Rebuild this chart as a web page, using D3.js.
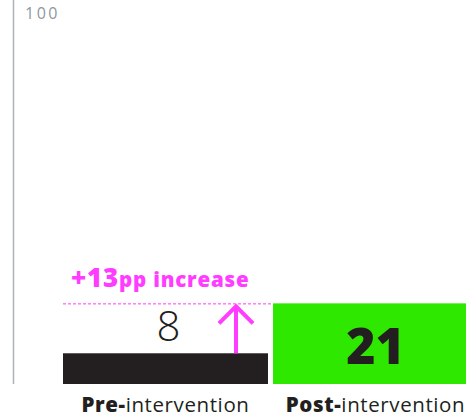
<!DOCTYPE html>
<html lang="en">
<head>
    <meta charset="UTF-8">
    <title>Pre vs post intervention</title>
    <script src="https://d3js.org/d3.v7.min.js"></script>
    <style>
        body {
            margin: 0;
            padding: 0;
            background: #fff;
            font-family: "Open Sans", Lato, sans-serif;
        }
        svg {
            display: block;
        }
    </style>
</head>
<body>
    <svg width="466" height="418"></svg>

    <script>
        const categories = ["Pre-intervention", "Post-intervention"];
        const prefixes = ["Pre-", "Post-"];
        const values = [8, 21];
        const yTicks = [100];
        const increaseLabel = ["+13", "pp increase"];

        const colors = ["#231f20", "#2ee800"];
        const accent = "#ff3cff";
        const baseline = 384;

        const svg = d3.select("svg");

        const x = d3.scaleBand()
            .domain(categories)
            .range([63, 478])
            .paddingInner(0.024);

        const y = d3.scaleLinear()
            .domain([0, 100])
            .range([baseline, 0]);

        // axis line + tick label
        svg.append("line")
            .attr("x1", 13.5).attr("x2", 13.5)
            .attr("y1", y(100)).attr("y2", baseline)
            .attr("stroke", "#aab2b8")
            .attr("stroke-width", 1.5);

        svg.selectAll(".tick-label")
            .data(yTicks)
            .enter()
            .append("text")
            .attr("class", "tick-label")
            .attr("x", 25)
            .attr("y", d => y(d) + 19)
            .attr("fill", "#8e979d")
            .attr("font-size", 16)
            .attr("letter-spacing", 2.5)
            .text(d => d);

        // bars
        svg.selectAll(".bar")
            .data(values)
            .enter()
            .append("rect")
            .attr("class", "bar")
            .attr("x", (d, i) => x(categories[i]))
            .attr("y", d => y(d))
            .attr("width", x.bandwidth())
            .attr("height", d => baseline - y(d))
            .attr("fill", (d, i) => colors[i]);

        // value labels
        svg.append("text")
            .attr("x", x(categories[0]) + x.bandwidth() / 2 + 3)
            .attr("y", y(values[0]) - 12)
            .attr("text-anchor", "middle")
            .attr("font-size", 42)
            .attr("font-weight", 300)
            .attr("fill", "#231f20")
            .text(values[0]);

        svg.append("text")
            .attr("x", x(categories[1]) + x.bandwidth() / 2)
            .attr("y", y(values[1]) + 61)
            .attr("text-anchor", "middle")
            .attr("font-size", 50)
            .attr("font-weight", 800)
            .attr("fill", "#231f20")
            .text(values[1]);

        // category labels
        const cat = svg.selectAll(".cat")
            .data(categories)
            .enter()
            .append("text")
            .attr("class", "cat")
            .attr("x", d => x(d) + x.bandwidth() / 2)
            .attr("y", 412)
            .attr("text-anchor", "middle")
            .attr("font-size", 20.5)
            .attr("letter-spacing", 0.6)
            .attr("fill", "#231f20");
        cat.append("tspan")
            .attr("font-weight", 800)
            .text((d, i) => prefixes[i]);
        cat.append("tspan")
            .attr("font-weight", 400)
            .text((d, i) => d.slice(prefixes[i].length));

        // increase annotation
        const postTop = y(values[1]);
        svg.append("line")
            .attr("x1", x(categories[0])).attr("x2", x(categories[1]))
            .attr("y1", postTop + 0.5).attr("y2", postTop + 0.5)
            .attr("stroke", accent)
            .attr("stroke-width", 1)
            .attr("stroke-dasharray", "3,2");

        const ax = 236;
        svg.append("line")
            .attr("x1", ax).attr("x2", ax)
            .attr("y1", postTop + 3).attr("y2", y(values[0]))
            .attr("stroke", accent)
            .attr("stroke-width", 4);
        svg.append("path")
            .attr("d", `M${ax - 17},${postTop + 20} L${ax},${postTop + 3} L${ax + 17},${postTop + 20}`)
            .attr("fill", "none")
            .attr("stroke", accent)
            .attr("stroke-width", 4);

        const inc = svg.append("text")
            .attr("x", 71)
            .attr("y", postTop - 16)
            .attr("fill", accent)
            .attr("font-weight", 800)
            .attr("letter-spacing", 0.8);
        inc.append("tspan").attr("font-size", 26).text(increaseLabel[0]);
        inc.append("tspan").attr("font-size", 20.5).text(increaseLabel[1]);
    </script>
</body>
</html>
